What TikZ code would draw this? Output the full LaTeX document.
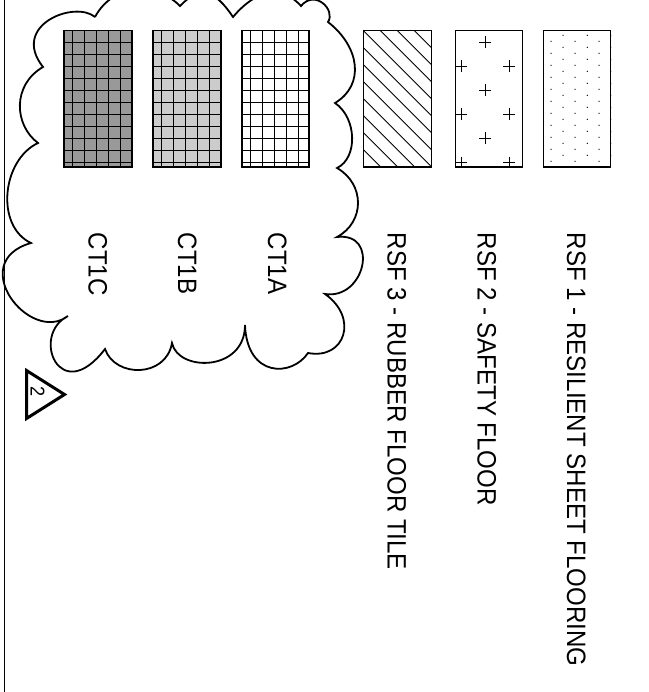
\documentclass[tikz,border=0pt]{standalone}
\usepackage{fontspec}
\setmainfont{Liberation Sans}[FakeStretch=0.905]
\tikzset{
	legende/.style={rotate=-90,anchor=base west,inner sep=0pt,font=\fontsize{26.6}{30}\selectfont},
	nuage/.style={black,line width=1.8pt,line join=miter},
	cadre/.style={black,line width=1.1pt},
	trame/.style={black,line width=0.9pt}
}
\begin{document}
\begin{tikzpicture}[x=1pt,y=-1pt]
	\useasboundingbox (0,0) rectangle (648,692);
	\clip (0,0) rectangle (648,692);
%	Trait vertical :
	\draw[black,line width=1pt] (4.5,0) -- (4.5,692);
%	Nuage :
	\draw[nuage] (95,17) .. controls (75,0) and (10,25) .. (43,67)
		.. controls (12,85) and (14,125) .. (38,143)
		.. controls (2,160) and (-5,226) .. (31,243)
		.. controls (-35,262) and (30,345) .. (68,316)
		.. controls (30,335) and (60,408) .. (105,349)
		.. controls (115,378) and (166,378) .. (172,343)
		.. controls (178,372) and (245,372) .. (245,325)
		.. controls (247,378) and (292,377) .. (308,353)
		.. controls (345,360) and (359,318) .. (325,294)
		.. controls (365,300) and (380,232) .. (337,237)
		.. controls (365,222) and (365,184) .. (337,168)
		.. controls (358,158) and (357,118) .. (335,103)
		.. controls (365,85) and (360,47) .. (328,22)
		.. controls (336,10) and (315,-11) .. (301,6)
		.. controls (285,-12) and (260,-15) .. (233,17)
		.. controls (215,-10) and (200,-15) .. (180,6)
		.. controls (160,-15) and (115,-20) .. (95,17);
%	Carreaux CT1C, CT1B, CT1A :
	\foreach \xg/\xd/\teinte in {64/132/black!40,153/221/black!20,242/309/white}{
		\fill[\teinte] (\xg,30.5) rectangle (\xd,167);
		\foreach \k in {1,...,11}
			\draw[trame] (\xg,30.5+12*\k) -- (\xd,30.5+12*\k);
		\foreach \k in {0,...,4}
			\draw[trame] (\xg+8.7+12*\k,30.5) -- (\xg+8.7+12*\k,167);
		\draw[cadre] (\xg,30.5) rectangle (\xd,167);
	}
%	RSF 3 :
	\begin{scope}
		\clip (363.7,30.5) rectangle (431.7,167);
		\foreach \k in {-4,...,8}
			\draw[trame] (264.7+17*\k+30.5,30.5) -- (264.7+17*\k+167,167);
	\end{scope}
	\draw[cadre] (363.7,30.5) rectangle (431.7,167);
%	RSF 2 :
	\begin{scope}
		\clip (455.3,30.5) rectangle (522.3,167);
		\foreach \xc/\yc in {485.3/42,461.3/66.3,509.3/66.3,485.3/90,461.3/114.3,509.3/114.3,485.3/138,461.3/162.7,509.3/162.7}{
			\draw[trame] (\xc-6,\yc) -- (\xc+6,\yc);
			\draw[trame] (\xc,\yc-6) -- (\xc,\yc+6);
		}
	\end{scope}
	\draw[cadre] (455.3,30.5) rectangle (522.3,167);
%	RSF 1 :
	\foreach \xc in {551,575,599}
		\foreach \k in {0,...,10}
			\fill[black] (\xc,41.3+12*\k) circle (0.7);
	\foreach \xc in {563,587.3,610.7}
		\foreach \k in {0,...,10}
			\fill[black] (\xc,35.3+12*\k) circle (0.7);
	\draw[cadre] (543.7,30.5) rectangle (610.7,167);
%	Textes :
	\node[legende] (ctc) at (88.5,232.7) {CT1C};
	\node[legende] (ctb) at (178,232.7) {CT1B};
	\node[legende] (cta) at (268,232.7) {CT1A};
	\node[legende] (rsftrois) at (387.5,232.7) {RSF 3 - RUBBER FLOOR TILE};
	\node[legende] (rsfdeux) at (477.7,232.7) {RSF 2 - SAFETY FLOOR};
	\node[legende] (rsfun) at (567,232.7) {RSF 1 - RESILIENT SHEET FLOORING};
%	Triangle :
	\draw[black,line width=3pt,line join=miter] (26.5,370.5) -- (64.5,394.5) -- (26.5,418.5) -- cycle;
	\node[rotate=-90,inner sep=0pt,font=\fontsize{20}{22}\selectfont] (indice) at (37.5,392) {2};
\end{tikzpicture}
\end{document}
